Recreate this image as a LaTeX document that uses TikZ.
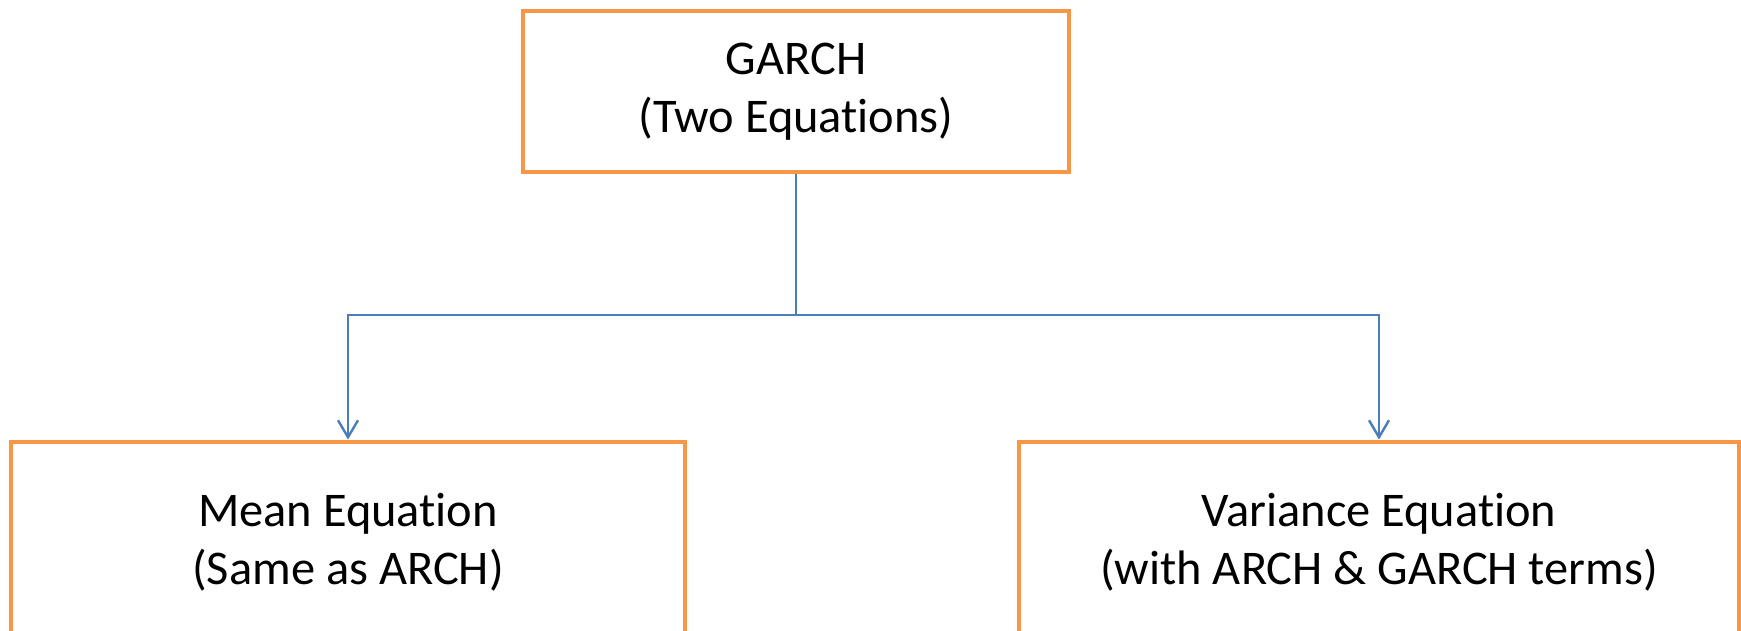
\documentclass[tikz,border=0pt]{standalone}
\usepackage{fontspec}
\setmainfont{Carlito}[Ligatures=NoCommon]
\usetikzlibrary{arrows.meta}
\definecolor{boxorange}{HTML}{F79646}
\definecolor{linkblue}{HTML}{4A7EBB}
\begin{document}
\begin{tikzpicture}[x=0.5pt,y=-0.5pt,
  eqbox/.style={draw=boxorange,line width=2.4pt,rectangle,align=center,
    font=\fontsize{24.2pt}{29pt}\selectfont,inner sep=0pt},
  link/.style={draw=linkblue,line width=1.2pt},
  linkarrow/.style={link,-{Straight Barb[length=8.5pt,width=10pt,line width=1.2pt]}}]
  \useasboundingbox (0,0) rectangle (1741,631);
  \clip (0,0) rectangle (1741,631);
  % parent model
  \node[eqbox,minimum width=273pt,minimum height=80.5pt] (garch) at (796,91.5)
    {GARCH\\(Two Equations)};
  % the two component equations (boxes run past the lower edge)
  \node[eqbox,minimum width=337pt,minimum height=100pt] (mean) at (348,542)
    {Mean Equation\\(Same as ARCH)};
  \node[eqbox,minimum width=360pt,minimum height=100pt] (var) at (1379,542)
    {Variance Equation\\(with ARCH \& GARCH terms)};
  % elbow connectors
  \coordinate (split) at (796,315);
  \draw[link] (garch.south) -- (split);
  \draw[linkarrow] (split) -| (mean.north);
  \draw[linkarrow] (split) -| (var.north);
\end{tikzpicture}
\end{document}
